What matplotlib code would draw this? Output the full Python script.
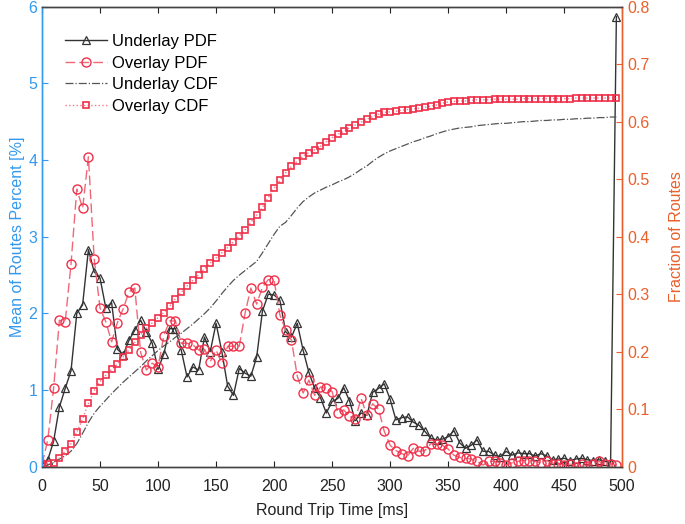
import numpy as np
import matplotlib
matplotlib.use("Agg")
import matplotlib.pyplot as plt

plt.rcParams['font.family'] = ['Liberation Sans', 'DejaVu Sans']

# round trip time bins (ms)
rtt = np.arange(0, 500, 5)

underlay_pdf = [
    0.03, 0.09, 0.33, 0.78, 1.02, 1.25, 2.00, 2.11, 2.83, 2.54,
    2.46, 2.07, 2.14, 1.53, 1.46, 1.65, 1.78, 1.91, 1.76, 1.61,
    1.27, 1.47, 1.80, 1.80, 1.52, 1.17, 1.30, 1.26, 1.69, 1.50,
    1.87, 1.50, 1.05, 0.93, 1.28, 1.22, 1.18, 1.43, 2.03, 2.25,
    2.24, 2.17, 1.76, 1.69, 1.87, 1.52, 1.23, 1.02, 0.90, 0.70,
    0.85, 0.89, 1.03, 0.86, 0.60, 0.70, 0.67, 0.97, 1.02, 1.08,
    0.88, 0.61, 0.64, 0.65, 0.58, 0.54, 0.46, 0.37, 0.35, 0.36,
    0.39, 0.47, 0.31, 0.24, 0.28, 0.35, 0.20, 0.20, 0.15, 0.13,
    0.20, 0.15, 0.18, 0.17, 0.17, 0.14, 0.17, 0.14, 0.09, 0.10,
    0.11, 0.08, 0.10, 0.11, 0.09, 0.08, 0.09, 0.07, 0.05, 5.87,
]

overlay_pdf = [
    0.03, 0.35, 1.02, 1.91, 1.89, 2.64, 3.62, 3.37, 4.04, 2.71,
    2.07, 1.89, 1.63, 1.88, 2.06, 2.28, 2.33, 1.49, 1.26, 1.35,
    1.30, 1.71, 1.90, 1.90, 1.61, 1.61, 1.59, 1.52, 1.54, 1.37,
    1.52, 1.35, 1.57, 1.57, 1.57, 2.00, 2.33, 2.12, 2.34, 2.44,
    2.43, 1.98, 1.78, 1.65, 1.18, 0.96, 1.13, 0.93, 1.04, 1.02,
    0.98, 0.70, 0.74, 0.66, 0.62, 0.89, 0.67, 0.82, 0.75, 0.46,
    0.28, 0.21, 0.17, 0.14, 0.24, 0.20, 0.21, 0.30, 0.30, 0.28,
    0.23, 0.15, 0.12, 0.11, 0.10, 0.07, 0.02, 0.07, 0.07, 0.05,
    0.02, 0.05, 0.07, 0.08, 0.08, 0.07, 0.05, 0.08, 0.04, 0.04,
    0.02, 0.04, 0.00, 0.03, 0.01, 0.04, 0.07, 0.03, 0.04, 0.02,
]

underlay_cdf = [
    0.000, 0.003, 0.008, 0.013, 0.019, 0.027, 0.040, 0.058, 0.077, 0.093,
    0.105, 0.116, 0.127, 0.137, 0.147, 0.156, 0.165, 0.174, 0.184, 0.193,
    0.202, 0.210, 0.217, 0.225, 0.232, 0.240, 0.248, 0.257, 0.266, 0.276,
    0.288, 0.301, 0.313, 0.324, 0.333, 0.341, 0.349, 0.357, 0.372, 0.388,
    0.404, 0.418, 0.425, 0.437, 0.450, 0.461, 0.469, 0.476, 0.481, 0.486,
    0.490, 0.495, 0.499, 0.504, 0.510, 0.517, 0.523, 0.531, 0.538, 0.544,
    0.549, 0.553, 0.557, 0.561, 0.565, 0.568, 0.572, 0.575, 0.579, 0.582,
    0.585, 0.587, 0.589, 0.590, 0.591, 0.593, 0.594, 0.595, 0.596, 0.597,
    0.597, 0.598, 0.599, 0.600, 0.600, 0.601, 0.602, 0.602, 0.603, 0.603,
    0.604, 0.604, 0.605, 0.605, 0.606, 0.606, 0.607, 0.607, 0.608, 0.608,
]

overlay_cdf = [
    0.003, 0.004, 0.007, 0.015, 0.027, 0.040, 0.060, 0.083, 0.110, 0.132,
    0.148, 0.159, 0.169, 0.178, 0.191, 0.203, 0.216, 0.229, 0.241, 0.250,
    0.259, 0.268, 0.279, 0.292, 0.303, 0.314, 0.324, 0.334, 0.344, 0.354,
    0.363, 0.372, 0.381, 0.391, 0.401, 0.412, 0.425, 0.437, 0.451, 0.468,
    0.484, 0.498, 0.511, 0.522, 0.531, 0.540, 0.546, 0.551, 0.557, 0.565,
    0.572, 0.578, 0.583, 0.589, 0.594, 0.599, 0.604, 0.609, 0.613, 0.616,
    0.617, 0.618, 0.620, 0.621, 0.622, 0.623, 0.625, 0.627, 0.629, 0.632,
    0.634, 0.635, 0.636, 0.636, 0.637, 0.638, 0.638, 0.638, 0.639, 0.639,
    0.639, 0.639, 0.639, 0.640, 0.640, 0.640, 0.640, 0.640, 0.640, 0.640,
    0.640, 0.640, 0.641, 0.641, 0.641, 0.641, 0.641, 0.641, 0.641, 0.641,
]

blue = '#3399ee'
orange = '#e8602c'
red = '#f0304a'

fig = plt.figure(figsize=(6.85, 5.24), dpi=100)
ax = fig.add_axes([0.0613, 0.1094, 0.847, 0.878])
ax2 = ax.twinx()

# PDFs on left axis
l1, = ax.plot(rtt, underlay_pdf, '-', color='#333333', lw=1.0,
              marker='^', ms=6, mfc='none', mec='#333333', mew=0.9,
              label='Underlay PDF')
l2, = ax.plot(rtt, overlay_pdf, '--', color='#f06878', lw=1.0, dashes=(7, 3),
              marker='o', ms=6.5, mfc='none', mec=red, mew=1.0,
              label='Overlay PDF')

# CDFs on right axis
l3, = ax2.plot(rtt, underlay_cdf, '-.', color='#555555', lw=0.9,
               label='Underlay CDF')
l4, = ax2.plot(rtt, overlay_cdf, ':', color='#f47a8a', lw=1.0,
               marker='s', ms=4.5, mfc='none', mec=red, mew=1.2,
               label='Overlay CDF')

ax.set_xlim(0, 500)
ax.set_ylim(0, 6)
ax2.set_ylim(0, 0.8)
ax.set_xticks(np.arange(0, 501, 50))
ax.set_yticks(np.arange(0, 7, 1))
ax2.set_yticks(np.arange(0, 0.81, 0.1))
ax2.set_yticklabels(['0', '0.1', '0.2', '0.3', '0.4', '0.5', '0.6', '0.7', '0.8'])

ax.tick_params(axis='x', direction='in', labelsize=11.5, colors='#222222',
               top=True, length=4, pad=9)
ax.tick_params(axis='y', direction='in', labelsize=11.5, colors=blue, length=4)
ax2.tick_params(axis='y', direction='in', labelsize=11.5, colors=orange, length=4)

for a in (ax, ax2):
    a.spines['left'].set_color(blue)
    a.spines['right'].set_color(orange)
    a.spines['top'].set_color('#444444')
    a.spines['bottom'].set_color('#444444')
    for s in a.spines.values():
        s.set_linewidth(1.0)

ax.set_xlabel('Round Trip Time [ms]', fontsize=11.5, color='#222222', labelpad=6)
ax.set_ylabel('Mean of Routes Percent [%]', fontsize=11.5, color=blue, labelpad=2)
ax2.set_ylabel('Fraction of Routes', fontsize=11.5, color=orange, labelpad=14)

ax2.legend(handles=[l1, l2, l3, l4], loc='upper left', frameon=False,
           fontsize=12, handlelength=2.5, handletextpad=0.3,
           labelspacing=0.4, borderaxespad=0.0, bbox_to_anchor=(0.028, 0.955))

fig.savefig('out.png', dpi=100)
